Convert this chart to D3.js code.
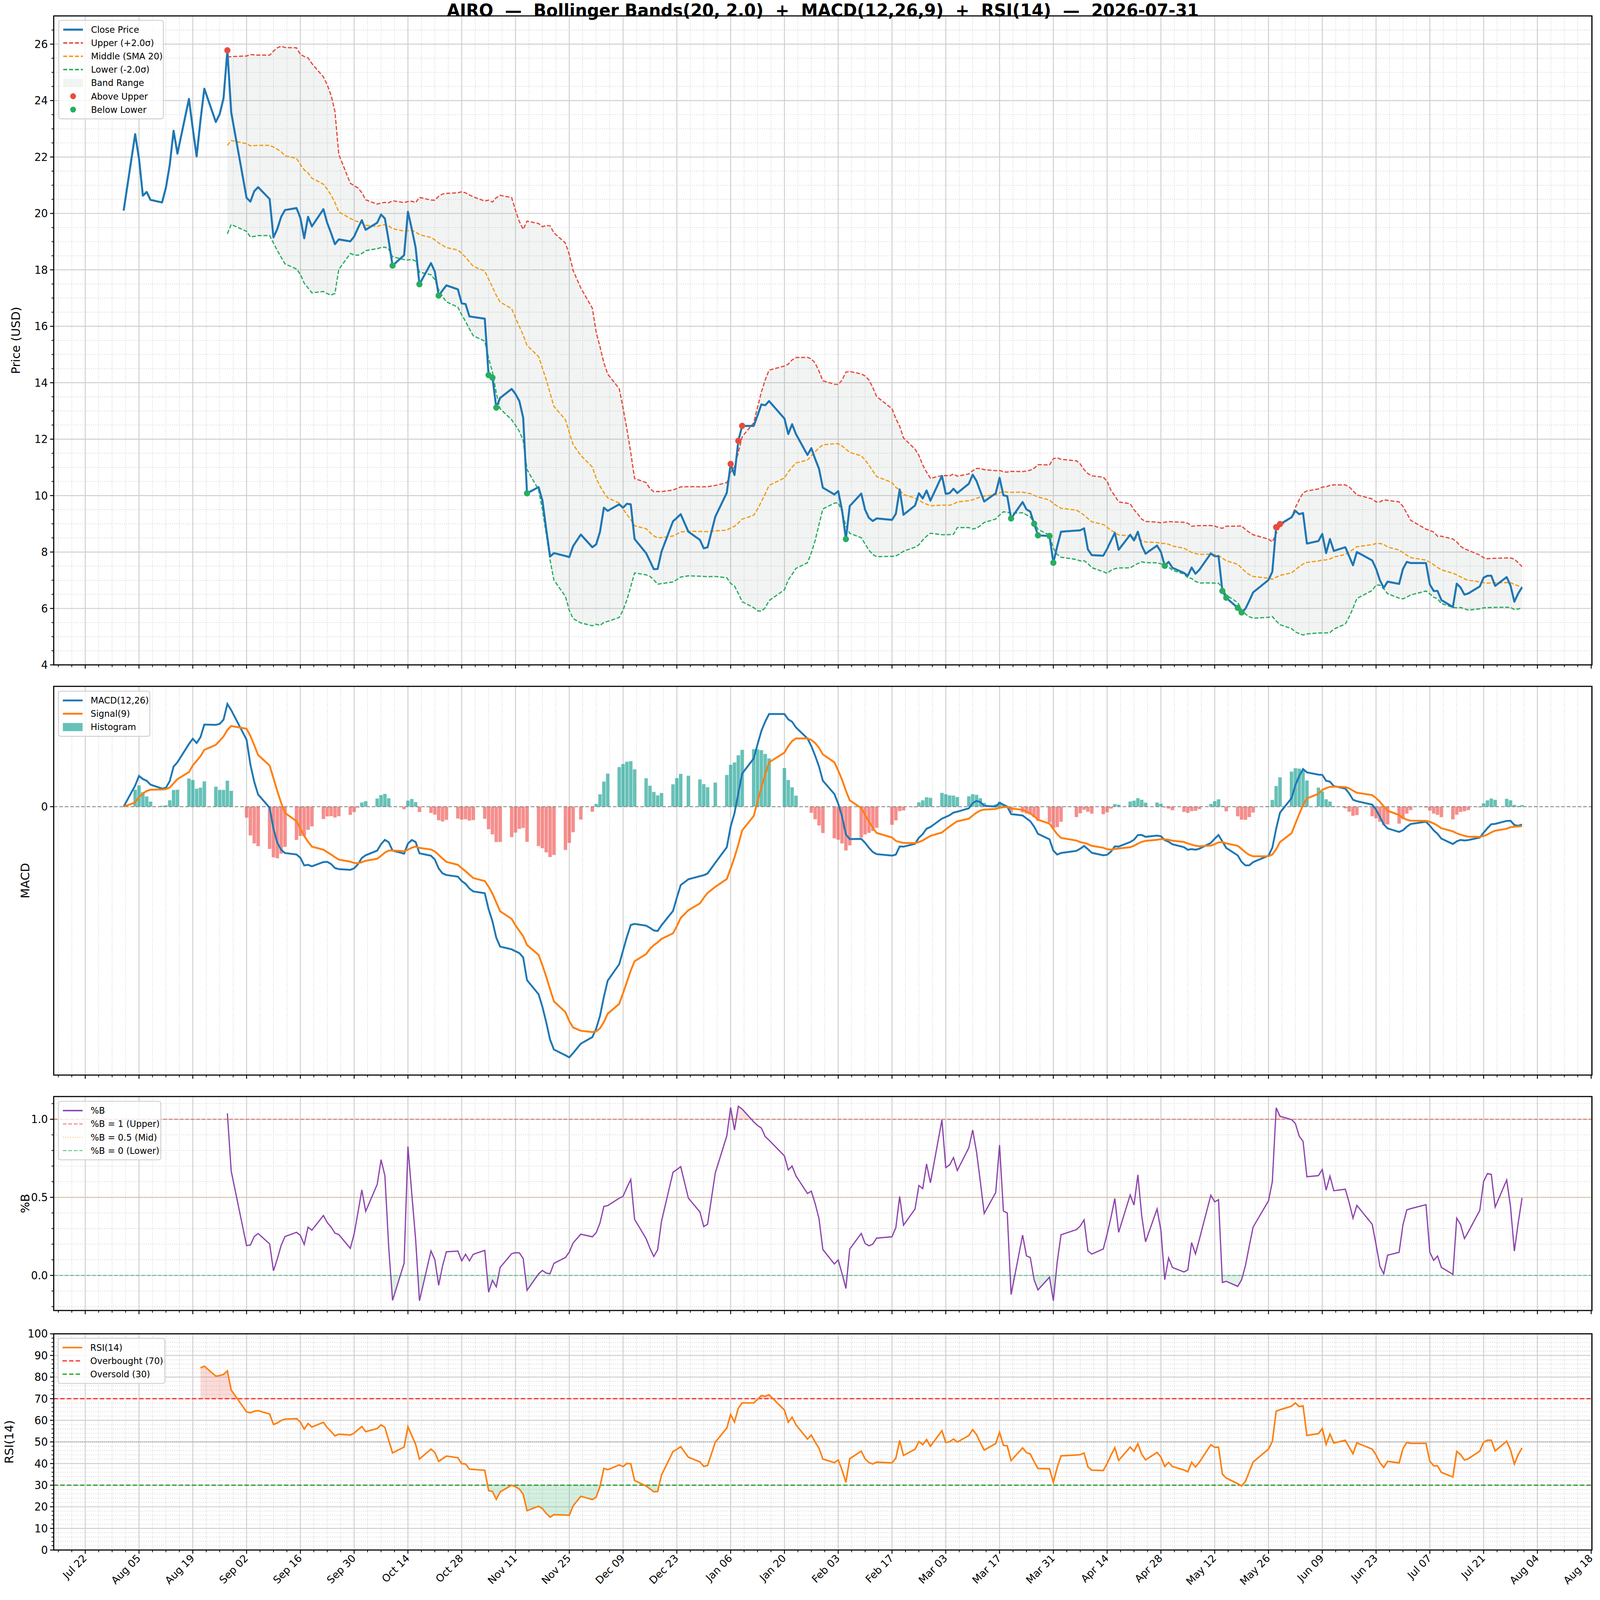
<!DOCTYPE html>
<html><head><meta charset="utf-8">
<script src="https://cdn.jsdelivr.net/npm/d3@7"></script>
<style>html,body{margin:0;padding:0;overflow:hidden;background:#fff}svg{display:block}text{font-family:"DejaVu Sans",sans-serif;white-space:pre}</style>
</head><body>
<script>
const ticker = "AIRO";
const titleText = "AIRO  —  Bollinger Bands(20, 2.0)  +  MACD(12,26,9)  +  RSI(14)  —  2026-07-31";
const dates = [
"2025-08-01","2025-08-04","2025-08-05","2025-08-06","2025-08-07","2025-08-08","2025-08-11","2025-08-12","2025-08-13","2025-08-14","2025-08-15","2025-08-18","2025-08-19","2025-08-20","2025-08-21","2025-08-22","2025-08-25","2025-08-26","2025-08-27","2025-08-28","2025-08-29",
"2025-09-02","2025-09-03","2025-09-04","2025-09-05","2025-09-08","2025-09-09","2025-09-10","2025-09-11","2025-09-12","2025-09-15","2025-09-16","2025-09-17","2025-09-18","2025-09-19","2025-09-22","2025-09-23","2025-09-24","2025-09-25","2025-09-26","2025-09-29","2025-09-30",
"2025-10-01","2025-10-02","2025-10-03","2025-10-06","2025-10-07","2025-10-08","2025-10-09","2025-10-10","2025-10-13","2025-10-14","2025-10-15","2025-10-16","2025-10-17","2025-10-20","2025-10-21","2025-10-22","2025-10-23","2025-10-24","2025-10-27","2025-10-28","2025-10-29","2025-10-30","2025-10-31",
"2025-11-03","2025-11-04","2025-11-05","2025-11-06","2025-11-07","2025-11-10","2025-11-11","2025-11-12","2025-11-13","2025-11-14","2025-11-17","2025-11-18","2025-11-19","2025-11-20","2025-11-21","2025-11-24","2025-11-25","2025-11-26","2025-11-28",
"2025-12-01","2025-12-02","2025-12-03","2025-12-04","2025-12-05","2025-12-08","2025-12-09","2025-12-10","2025-12-11","2025-12-12","2025-12-15","2025-12-16","2025-12-17","2025-12-18","2025-12-19","2025-12-22","2025-12-23","2025-12-24","2025-12-26","2025-12-29","2025-12-30","2025-12-31",
"2026-01-02","2026-01-05","2026-01-06","2026-01-07","2026-01-08","2026-01-09","2026-01-12","2026-01-13","2026-01-14","2026-01-15","2026-01-16","2026-01-20","2026-01-21","2026-01-22","2026-01-23","2026-01-26","2026-01-27","2026-01-28","2026-01-29","2026-01-30",
"2026-02-02","2026-02-03","2026-02-04","2026-02-05","2026-02-06","2026-02-09","2026-02-10","2026-02-11","2026-02-12","2026-02-13","2026-02-17","2026-02-18","2026-02-19","2026-02-20","2026-02-23","2026-02-24","2026-02-25","2026-02-26","2026-02-27",
"2026-03-02","2026-03-03","2026-03-04","2026-03-05","2026-03-06","2026-03-09","2026-03-10","2026-03-11","2026-03-12","2026-03-13","2026-03-16","2026-03-17","2026-03-18","2026-03-19","2026-03-20","2026-03-23","2026-03-24","2026-03-25","2026-03-26","2026-03-27","2026-03-30","2026-03-31",
"2026-04-01","2026-04-02","2026-04-06","2026-04-07","2026-04-08","2026-04-09","2026-04-10","2026-04-13","2026-04-14","2026-04-15","2026-04-16","2026-04-17","2026-04-20","2026-04-21","2026-04-22","2026-04-23","2026-04-24","2026-04-27","2026-04-28","2026-04-29","2026-04-30",
"2026-05-01","2026-05-04","2026-05-05","2026-05-06","2026-05-07","2026-05-08","2026-05-11","2026-05-12","2026-05-13","2026-05-14","2026-05-15","2026-05-18","2026-05-19","2026-05-20","2026-05-21","2026-05-22","2026-05-26","2026-05-27","2026-05-28","2026-05-29",
"2026-06-01","2026-06-02","2026-06-03","2026-06-04","2026-06-05","2026-06-08","2026-06-09","2026-06-10","2026-06-11","2026-06-12","2026-06-15","2026-06-16","2026-06-17","2026-06-18","2026-06-22","2026-06-23","2026-06-24","2026-06-25","2026-06-26","2026-06-29","2026-06-30",
"2026-07-01","2026-07-02","2026-07-06","2026-07-07","2026-07-08","2026-07-09","2026-07-10","2026-07-13","2026-07-14","2026-07-15","2026-07-16","2026-07-17","2026-07-20","2026-07-21","2026-07-22","2026-07-23","2026-07-24","2026-07-27","2026-07-28","2026-07-29","2026-07-30","2026-07-31"];
const closes = [
20.10,22.81,21.94,20.63,20.76,20.48,20.39,20.91,21.72,22.93,22.12,24.06,23.0,22.02,23.3,24.42,23.24,23.52,24.08,25.78,23.58,
20.55,20.42,20.79,20.93,20.51,19.15,19.45,19.88,20.12,20.19,19.84,19.12,19.88,19.54,20.15,19.66,19.30,18.91,19.08,19.01,19.18,
19.48,19.76,19.42,19.67,19.96,19.82,19.03,18.15,18.52,20.06,19.45,18.79,17.49,18.24,17.94,17.09,17.27,17.45,17.31,16.81,16.79,16.35,16.33,
16.27,14.27,14.18,13.12,13.46,13.78,13.60,13.35,12.76,10.08,10.30,9.83,8.8,7.84,7.96,7.86,7.82,8.21,8.62,
8.17,8.27,8.72,9.57,9.46,9.69,9.57,9.71,9.69,8.46,7.96,7.68,7.39,7.40,8.01,9.09,9.21,9.34,8.72,8.43,8.13,8.17,
9.25,10.10,11.12,10.73,11.94,12.47,12.47,12.84,13.23,13.20,13.35,12.73,12.18,12.53,12.18,11.44,11.68,11.30,10.95,10.28,
10.04,10.16,9.48,8.46,9.63,10.07,9.50,9.21,9.10,9.19,9.14,9.35,10.22,9.32,9.65,10.08,9.90,10.18,9.82,
10.70,10.06,10.09,10.24,10.09,10.42,10.74,10.52,10.15,9.79,10.08,10.63,10.01,9.98,9.19,9.77,9.51,9.43,9.0,8.59,8.57,7.62,
8.2,8.72,8.76,8.77,8.84,8.09,7.89,7.87,8.11,8.40,8.68,8.08,8.61,8.41,8.72,8.23,7.94,8.23,8.00,7.51,7.65,
7.44,7.26,7.16,7.45,7.23,7.37,7.95,7.85,7.85,6.62,6.38,6.02,5.86,5.99,6.27,6.57,7.01,7.30,8.88,8.99,
9.23,9.46,9.34,9.38,8.30,8.39,8.64,7.96,8.46,8.04,8.17,7.85,7.53,8.00,7.70,7.41,7.00,6.73,6.95,6.87,7.40,
7.65,7.61,7.61,6.85,6.62,6.62,6.30,6.05,6.88,6.74,6.49,6.53,6.78,7.09,7.16,7.16,6.80,7.11,6.81,6.24,6.53,6.75];
const priceTicks = [4,6,8,10,12,14,16,18,20,22,24,26];
const rsiTicks = [0,10,20,30,40,50,60,70,80,90,100];
const pbTicks = [0.0,0.5,1.0];
const bbWindow = 20, bbK = 2.0, macdFast = 12, macdSlow = 26, macdSig = 9, rsiLen = 14;

const parse = d3.timeParse("%Y-%m-%d");
const D = dates.map(parse);
const n = closes.length;
const mid = [], up = [], lo = [];
for (let i = 0; i < n; i++) {
  if (i < bbWindow - 1) { mid.push(null); up.push(null); lo.push(null); continue; }
  const w = closes.slice(i - bbWindow + 1, i + 1);
  const m = d3.mean(w), s = d3.deviation(w);
  mid.push(m); up.push(m + bbK * s); lo.push(m - bbK * s);
}
function ema(arr, span) { const a = 2 / (span + 1); const o = []; arr.forEach((v, i) => o.push(i === 0 ? v : a * v + (1 - a) * o[i - 1])); return o; }
const ef = ema(closes, macdFast), es = ema(closes, macdSlow);
const macd = ef.map((v, i) => v - es[i]);
const sig = ema(macd, macdSig);
const hist = macd.map((v, i) => v - sig[i]);
const rsi = [];
{ let ag = 0, al = 0;
  for (let i = 0; i < n; i++) {
    if (i === 0) { rsi.push(null); continue; }
    const d = closes[i] - closes[i - 1], g = Math.max(d, 0), l = Math.max(-d, 0);
    if (i === 1) { ag = g; al = l; } else { ag = ag + (g - ag) / rsiLen; al = al + (l - al) / rsiLen; }
    rsi.push(i < rsiLen ? null : (al === 0 ? 100 : 100 - 100 / (1 + ag / al)));
  } }
const pb = closes.map((c, i) => up[i] == null ? null : (c - lo[i]) / (up[i] - lo[i]));

const W = 4378, H = 4322, L = 147, R = 4356;
const panels = { price: [43, 1796], macd: [1854, 2904], pb: [2962, 3540], rsi: [3603, 4187] };
const svg = d3.select("body").append("svg").attr("viewBox", `0 0 ${W} ${H}`).attr("preserveAspectRatio", "none")
  .style("width", "100vw").style("height", "100vh");
const span = D[n - 1] - D[0];
const x = d3.scaleTime().domain([new Date(+D[0] - 0.05 * span), new Date(+D[n - 1] + 0.05 * span)]).range([L, R]);
const major = [], minor = [];
{ const s = new Date(2025, 6, 22); for (let k = -4; k < 130; k++) { const t = new Date(+s + k * 3.5 * 864e5); if (t < x.domain()[0] || t > x.domain()[1]) continue; (k % 4 === 0 ? major : minor).push(t); } }

const BLUE = "#1f77b4", ORANGE = "#ff7f0e";
let clipId = 0;
function panel(key, y, yMajor, yMinor, ylabel, showX, yFmt, hGrid) {
  const [t, b] = panels[key];
  const g = svg.append("g");
  const gg = g.append("g");
  minor.forEach(m => gg.append("line").attr("x1", x(m)).attr("x2", x(m)).attr("y1", t).attr("y2", b).attr("stroke", "#d0d0d0").attr("stroke-width", 1.6).attr("stroke-dasharray", "2.5,3.5"));
  (yMinor || []).forEach(v => gg.append("line").attr("x1", L).attr("x2", R).attr("y1", y(v)).attr("y2", y(v)).attr("stroke", "#d0d0d0").attr("stroke-width", 1.6).attr("stroke-dasharray", "2.5,3.5"));
  major.forEach(m => gg.append("line").attr("x1", x(m)).attr("x2", x(m)).attr("y1", t).attr("y2", b).attr("stroke", "#cfcfcf").attr("stroke-width", 2.6));
  if (hGrid !== false) yMajor.forEach(v => gg.append("line").attr("x1", L).attr("x2", R).attr("y1", y(v)).attr("y2", y(v)).attr("stroke", "#cfcfcf").attr("stroke-width", 2.6));
  const id = "c" + (clipId++);
  svg.append("clipPath").attr("id", id).append("rect").attr("x", L).attr("y", t).attr("width", R - L).attr("height", b - t);
  const plot = g.append("g").attr("clip-path", `url(#${id})`);
  const ax = g.append("g");
  ax.append("rect").attr("x", L).attr("y", t).attr("width", R - L).attr("height", b - t).attr("fill", "none").attr("stroke", "#000").attr("stroke-width", 3);
  major.forEach(m => ax.append("line").attr("x1", x(m)).attr("x2", x(m)).attr("y1", b).attr("y2", b + 10).attr("stroke", "#000").attr("stroke-width", 2.5));
  minor.forEach(m => ax.append("line").attr("x1", x(m)).attr("x2", x(m)).attr("y1", b).attr("y2", b + 6).attr("stroke", "#000").attr("stroke-width", 2));
  if (showX) major.forEach(m => ax.append("text").attr("transform", `translate(${x(m) + 6},${b + 24}) rotate(-45)`).attr("text-anchor", "end").attr("font-size", 28).text(d3.timeFormat("%b %d")(m)));
  yMajor.forEach(v => {
    ax.append("line").attr("x1", L - 10).attr("x2", L).attr("y1", y(v)).attr("y2", y(v)).attr("stroke", "#000").attr("stroke-width", 2.5);
    ax.append("text").attr("x", L - 16).attr("y", y(v)).attr("dy", "0.36em").attr("text-anchor", "end").attr("font-size", 29).text(yFmt ? yFmt(v) : v);
  });
  (yMinor || []).forEach(v => ax.append("line").attr("x1", L - 6).attr("x2", L).attr("y1", y(v)).attr("y2", y(v)).attr("stroke", "#000").attr("stroke-width", 2));
  const ylx = key === "price" ? 55 : (key === "rsi" ? 36 : 80);
  ax.append("text").attr("transform", `translate(${ylx},${(t + b) / 2}) rotate(-90)`).attr("text-anchor", "middle").attr("font-size", 32).text(ylabel);
  return { plot, ax };
}
function legend(ax, x0, y0, w, items) {
  const rowH = 36, h = items.length * rowH + 14;
  ax.append("rect").attr("x", x0).attr("y", y0).attr("width", w).attr("height", h).attr("rx", 6).attr("fill", "#fff").attr("fill-opacity", 0.8).attr("stroke", "#d0d0d0").attr("stroke-width", 2.5);
  items.forEach((it, i) => {
    const cy = y0 + 25 + i * rowH, lx = x0 + 12;
    if (it.type === "line") ax.append("line").attr("x1", lx).attr("x2", lx + 54).attr("y1", cy).attr("y2", cy).attr("stroke", it.color).attr("stroke-width", it.w || 4).attr("stroke-dasharray", it.dash || null).attr("stroke-opacity", it.op || 1);
    else if (it.type === "rect") ax.append("rect").attr("x", lx).attr("y", cy - 11).attr("width", 54).attr("height", 22).attr("fill", it.color).attr("fill-opacity", it.op || 1);
    else ax.append("circle").attr("cx", lx + 27).attr("cy", cy).attr("r", 8).attr("fill", it.color);
    ax.append("text").attr("x", lx + 76).attr("y", cy).attr("dy", "0.36em").attr("font-size", 24).text(it.label);
  });
}
const idx = d3.range(n);

{
  const y = d3.scaleLinear().domain([4, 27]).range([panels.price[1], panels.price[0]]);
  const pMinor = d3.range(4.5, 27, 0.5).filter(v => v % 2 !== 0);
  const { plot, ax } = panel("price", y, priceTicks, pMinor, "Price (USD)", false);
  const bi = idx.filter(i => up[i] != null);
  plot.append("path").attr("d", d3.area().x(i => x(D[i])).y0(i => y(lo[i])).y1(i => y(up[i]))(bi)).attr("fill", "#95a5a6").attr("fill-opacity", 0.12);
  const ln = (arr, col) => plot.append("path").attr("d", d3.line().x(i => x(D[i])).y(i => y(arr[i]))(bi)).attr("fill", "none").attr("stroke", col).attr("stroke-width", 3.4).attr("stroke-dasharray", "11,5");
  ln(up, "#e74c3c"); ln(mid, "#f39c12"); ln(lo, "#27ae60");
  plot.append("path").attr("d", d3.line().x(i => x(D[i])).y(i => y(closes[i]))(idx)).attr("fill", "none").attr("stroke", BLUE).attr("stroke-width", 5.5).attr("stroke-linejoin", "round");
  bi.filter(i => closes[i] > up[i]).forEach(i => plot.append("circle").attr("cx", x(D[i])).attr("cy", y(closes[i])).attr("r", 8.5).attr("fill", "#e74c3c"));
  bi.filter(i => closes[i] < lo[i]).forEach(i => plot.append("circle").attr("cx", x(D[i])).attr("cy", y(closes[i])).attr("r", 8.5).attr("fill", "#27ae60"));
  legend(ax, 161, 55, 286, [
    { type: "line", color: BLUE, w: 5.5, label: "Close Price" },
    { type: "line", color: "#e74c3c", dash: "11,5", label: "Upper (+2.0σ)" },
    { type: "line", color: "#f39c12", dash: "11,5", label: "Middle (SMA 20)" },
    { type: "line", color: "#27ae60", dash: "11,5", label: "Lower (-2.0σ)" },
    { type: "rect", color: "#95a5a6", op: 0.12, label: "Band Range" },
    { type: "dot", color: "#e74c3c", label: "Above Upper" },
    { type: "dot", color: "#27ae60", label: "Below Lower" }]);
}
{
  const lo_ = Math.min(d3.min(macd), d3.min(sig), d3.min(hist), 0), hi_ = Math.max(d3.max(macd), d3.max(sig), d3.max(hist), 0);
  const pad = (hi_ - lo_) * 0.05;
  const y = d3.scaleLinear().domain([lo_ - pad, hi_ + pad]).range([panels.macd[1], panels.macd[0]]);
  const { plot, ax } = panel("macd", y, [0], null, "MACD", false, null, false);
  const bw = x(new Date(864e5 * 0.9)) - x(new Date(0));
  idx.forEach(i => plot.append("rect").attr("x", x(D[i]) - bw / 2).attr("width", bw).attr("y", y(Math.max(hist[i], 0))).attr("height", Math.abs(y(hist[i]) - y(0))).attr("fill", hist[i] >= 0 ? "#26a69a" : "#ef5350").attr("fill-opacity", hist[i] >= 0 ? 0.7 : 0.65));
  plot.append("line").attr("x1", L).attr("x2", R).attr("y1", y(0)).attr("y2", y(0)).attr("stroke", "#888").attr("stroke-width", 2.5).attr("stroke-dasharray", "10,5");
  plot.append("path").attr("d", d3.line().x(i => x(D[i])).y(i => y(macd[i]))(idx)).attr("fill", "none").attr("stroke", BLUE).attr("stroke-width", 5);
  plot.append("path").attr("d", d3.line().x(i => x(D[i])).y(i => y(sig[i]))(idx)).attr("fill", "none").attr("stroke", ORANGE).attr("stroke-width", 5);
  legend(ax, 160, 1867, 250, [
    { type: "line", color: BLUE, w: 5, label: "MACD(12,26)" },
    { type: "line", color: ORANGE, w: 5, label: "Signal(9)" },
    { type: "rect", color: "#26a69a", op: 0.7, label: "Histogram" }]);
}
{
  const bi = idx.filter(i => pb[i] != null);
  const lo_ = Math.min(d3.min(bi, i => pb[i]), 0), hi_ = Math.max(d3.max(bi, i => pb[i]), 1);
  const pad = (hi_ - lo_) * 0.05;
  const y = d3.scaleLinear().domain([lo_ - pad, hi_ + pad]).range([panels.pb[1], panels.pb[0]]);
  const mins = d3.range(-0.2, 1.2001, 0.1).map(v => +v.toFixed(1)).filter(v => v !== 0 && v !== 0.5 && v !== 1 && v >= y.domain()[0] && v <= y.domain()[1]);
  const { plot, ax } = panel("pb", y, pbTicks, mins, "%B", false, v => v.toFixed(1));
  const ar = d3.area().x(i => x(D[i])).y1(i => y(pb[i]));
  svg.append("clipPath").attr("id", "pbHi").append("rect").attr("x", L).attr("y", 0).attr("width", R - L).attr("height", y(1));
  svg.append("clipPath").attr("id", "pbLo").append("rect").attr("x", L).attr("y", y(0)).attr("width", R - L).attr("height", 1000);
  plot.append("path").attr("clip-path", "url(#pbHi)").attr("d", ar.y0(y(1))(bi)).attr("fill", "#e74c3c").attr("fill-opacity", 0.15);
  plot.append("path").attr("clip-path", "url(#pbLo)").attr("d", ar.y0(y(0))(bi)).attr("fill", "#27ae60").attr("fill-opacity", 0.15);
  plot.append("line").attr("x1", L).attr("x2", R).attr("y1", y(1)).attr("y2", y(1)).attr("stroke", "#e74c3c").attr("stroke-opacity", 0.7).attr("stroke-width", 2.5).attr("stroke-dasharray", "10,5");
  plot.append("line").attr("x1", L).attr("x2", R).attr("y1", y(0.5)).attr("y2", y(0.5)).attr("stroke", "#f39c12").attr("stroke-opacity", 0.6).attr("stroke-width", 2.5).attr("stroke-dasharray", "2.5,4");
  plot.append("line").attr("x1", L).attr("x2", R).attr("y1", y(0)).attr("y2", y(0)).attr("stroke", "#27ae60").attr("stroke-opacity", 0.7).attr("stroke-width", 2.5).attr("stroke-dasharray", "10,5");
  plot.append("path").attr("d", d3.line().x(i => x(D[i])).y(i => y(pb[i]))(bi)).attr("fill", "none").attr("stroke", "#8e44ad").attr("stroke-width", 3.4);
  legend(ax, 160, 2975, 280, [
    { type: "line", color: "#8e44ad", w: 4, label: "%B" },
    { type: "line", color: "#e74c3c", op: 0.7, w: 2.5, dash: "10,5", label: "%B = 1 (Upper)" },
    { type: "line", color: "#f39c12", op: 0.6, w: 2.5, dash: "2.5,4", label: "%B = 0.5 (Mid)" },
    { type: "line", color: "#27ae60", op: 0.7, w: 2.5, dash: "10,5", label: "%B = 0 (Lower)" }]);
}
{
  const y = d3.scaleLinear().domain([0, 100]).range([panels.rsi[1], panels.rsi[0]]);
  const mins = d3.range(2, 100, 2).filter(v => v % 10 !== 0);
  const { plot, ax } = panel("rsi", y, rsiTicks, mins, "RSI(14)", true);
  const bi = idx.filter(i => rsi[i] != null);
  const ar = d3.area().x(i => x(D[i])).y1(i => y(rsi[i]));
  svg.append("clipPath").attr("id", "rHi").append("rect").attr("x", L).attr("y", 0).attr("width", R - L).attr("height", y(70));
  svg.append("clipPath").attr("id", "rLo").append("rect").attr("x", L).attr("y", y(30)).attr("width", R - L).attr("height", 1000);
  plot.append("path").attr("clip-path", "url(#rHi)").attr("d", ar.y0(y(70))(bi)).attr("fill", "#e74c3c").attr("fill-opacity", 0.2);
  plot.append("path").attr("clip-path", "url(#rLo)").attr("d", ar.y0(y(30))(bi)).attr("fill", "#27ae60").attr("fill-opacity", 0.2);
  plot.append("line").attr("x1", L).attr("x2", R).attr("y1", y(50)).attr("y2", y(50)).attr("stroke", "#888").attr("stroke-width", 2).attr("stroke-dasharray", "2.5,3");
  plot.append("line").attr("x1", L).attr("x2", R).attr("y1", y(70)).attr("y2", y(70)).attr("stroke", "#ff3333").attr("stroke-width", 3.4).attr("stroke-dasharray", "12,6");
  plot.append("line").attr("x1", L).attr("x2", R).attr("y1", y(30)).attr("y2", y(30)).attr("stroke", "#2ca02c").attr("stroke-width", 3.4).attr("stroke-dasharray", "12,6");
  plot.append("path").attr("d", d3.line().x(i => x(D[i])).y(i => y(rsi[i]))(bi)).attr("fill", "none").attr("stroke", ORANGE).attr("stroke-width", 4.2);
  legend(ax, 159, 3615, 292, [
    { type: "line", color: ORANGE, w: 4.2, label: "RSI(14)" },
    { type: "line", color: "#ff3333", w: 3.4, dash: "12,6", label: "Overbought (70)" },
    { type: "line", color: "#2ca02c", w: 3.4, dash: "12,6", label: "Oversold (30)" }]);
}
svg.append("text").attr("x", (L + R) / 2).attr("y", 44).attr("text-anchor", "middle").attr("font-size", 46).attr("font-weight", "bold").attr("xml:space", "preserve").text(titleText);
</script>
</body></html>
